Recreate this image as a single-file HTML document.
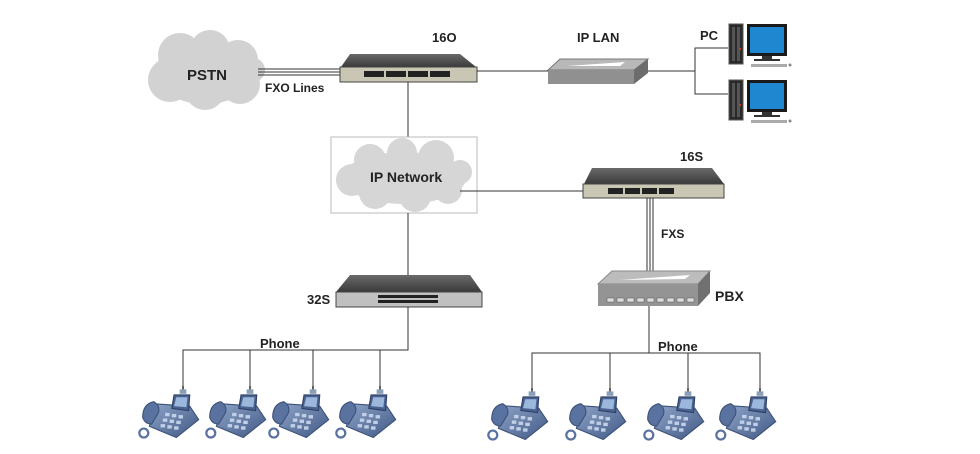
<!DOCTYPE html>
<html><head><meta charset="utf-8"><style>
html,body{margin:0;padding:0;background:#fff;}
svg{display:block;}
text{font-family:"Liberation Sans",Arial,sans-serif;font-weight:bold;fill:#222;}
</style></head><body>
<svg width="980" height="454" viewBox="0 0 980 454" xmlns="http://www.w3.org/2000/svg">
<defs>
<linearGradient id="top" x1="0" y1="0" x2="0" y2="1"><stop offset="0" stop-color="#6a6a6a"/><stop offset="1" stop-color="#3a3a3a"/></linearGradient>
<linearGradient id="ph" x1="0" y1="0" x2="1" y2="1"><stop offset="0" stop-color="#8ea4c8"/><stop offset="1" stop-color="#3f5784"/></linearGradient>
<g id="phone0">
<line x1="0" y1="0" x2="0" y2="5" stroke="#444" stroke-width="1.5"/>
<rect x="-3" y="3" width="6" height="4" fill="#8aa0b8"/>
<path d="M-24,16 L6,18 L14,30 L-6,46 L-30,36 Z" fill="url(#ph)" stroke="#3d5278" stroke-width="1"/>
<path d="M-8,8 L6,8 L5,22 L-10,20 Z" fill="#4a6290" stroke="#2e4066"/>
<path d="M-6,10 L4,10 L3,19 L-8,18 Z" fill="#9bb7dc"/>
<path d="M-26,14 Q-36,16 -36,28 Q-34,34 -28,34 L-22,24 Q-20,18 -26,14 Z" fill="#5a72a0" stroke="#3d5278"/>
<circle cx="-35" cy="42" r="4" fill="none" stroke="#5a72a0" stroke-width="2"/>
<g fill="#c0cfe6"><rect x="-16" y="24" width="4" height="3"/><rect x="-10" y="25" width="4" height="3"/><rect x="-4" y="26" width="4" height="3"/><rect x="-18" y="29" width="4" height="3"/><rect x="-12" y="30" width="4" height="3"/><rect x="-6" y="31" width="4" height="3"/><rect x="-20" y="34" width="4" height="3"/><rect x="-14" y="35" width="4" height="3"/><rect x="-8" y="36" width="4" height="3"/></g>
</g>
<g id="phone"><use href="#phone0" transform="scale(1.12)"/></g>
<g id="pc">
<rect x="0" y="0" width="14" height="40" fill="#2a2a2a" stroke="#555"/>
<rect x="3" y="3" width="3" height="34" fill="#555"/><rect x="8" y="3" width="3" height="34" fill="#555"/>
<circle cx="11" cy="25" r="1.2" fill="#c33"/>
<rect x="18" y="0" width="40" height="32" fill="#1a1a1a"/>
<rect x="21" y="3" width="34" height="26" fill="#1f86d0"/>
<rect x="33" y="32" width="10" height="3" fill="#333"/>
<rect x="25" y="35" width="26" height="2" fill="#333"/>
<rect x="22" y="40" width="36" height="3" fill="#aaa"/>
<circle cx="61" cy="41" r="1.5" fill="#888"/>
</g>
</defs>

<!-- PSTN cloud -->
<g fill="#d2d2d2">
<ellipse cx="205" cy="72" rx="50" ry="32"/>
<circle cx="180" cy="55" r="22"/><circle cx="210" cy="50" r="20"/><circle cx="238" cy="60" r="20"/>
<circle cx="170" cy="80" r="22"/><circle cx="205" cy="90" r="20"/><circle cx="240" cy="84" r="20"/>
<circle cx="253" cy="70" r="12"/>
</g>
<text x="187" y="80" font-size="15">PSTN</text>

<g stroke="#333" stroke-width="1"><line x1="258" y1="69" x2="340" y2="69"/><line x1="258" y1="72" x2="340" y2="72"/><line x1="258" y1="75" x2="340" y2="75"/></g>
<text x="265" y="92" font-size="12">FXO Lines</text>

<!-- 16O -->
<polygon points="350,54 460,54 476,67 341,67" fill="url(#top)"/>
<rect x="340" y="67" width="137" height="15" fill="#c9c6b4" stroke="#444"/>
<g fill="#222"><rect x="364" y="71" width="20" height="6"/><rect x="386" y="71" width="20" height="6"/><rect x="408" y="71" width="20" height="6"/><rect x="430" y="71" width="20" height="6"/></g>
<text x="432" y="42" font-size="13">16O</text>
<line x1="477" y1="71" x2="550" y2="71" stroke="#333"/>

<!-- IP LAN -->
<polygon points="560,59 648,59 634,70 548,70" fill="#b8b8b8" stroke="#777"/>
<polygon points="548,70 634,70 634,84 548,84" fill="#909090"/>
<polygon points="634,70 648,59 648,73 634,84" fill="#6c6c6c"/>
<polygon points="567,66 625,62 620,66" fill="#fff"/>
<text x="577" y="42" font-size="13">IP LAN</text>
<line x1="648" y1="71" x2="695" y2="71" stroke="#333"/>
<polyline points="728,48 695,48 695,94 728,94" fill="none" stroke="#333"/>
<text x="700" y="40" font-size="13">PC</text>
<use href="#pc" x="729" y="24"/>
<use href="#pc" x="729" y="80"/>

<line x1="408" y1="82" x2="408" y2="137" stroke="#333"/>

<!-- IP Network -->
<rect x="331" y="137" width="146" height="76" fill="#fff" stroke="#bbb"/>
<g fill="#d6d6d6">
<ellipse cx="404" cy="178" rx="62" ry="26"/>
<circle cx="370" cy="160" r="16"/><circle cx="402" cy="153" r="15"/><circle cx="436" cy="158" r="18"/><circle cx="460" cy="172" r="12"/>
<circle cx="352" cy="180" r="16"/><circle cx="375" cy="193" r="16"/><circle cx="415" cy="196" r="16"/><circle cx="448" cy="190" r="14"/>
</g>
<text x="370" y="182" font-size="14">IP Network</text>
<line x1="460" y1="191" x2="585" y2="191" stroke="#333"/>

<!-- 16S -->
<polygon points="592,168 712,168 724,184 584,184" fill="url(#top)"/>
<rect x="583" y="184" width="141" height="14" fill="#c9c6b4" stroke="#444"/>
<g fill="#222"><rect x="608" y="188" width="15" height="6"/><rect x="625" y="188" width="15" height="6"/><rect x="642" y="188" width="15" height="6"/><rect x="659" y="188" width="15" height="6"/></g>
<text x="680" y="161" font-size="13">16S</text>
<g stroke="#333" stroke-width="1"><line x1="647" y1="198" x2="647" y2="272"/><line x1="650" y1="198" x2="650" y2="272"/><line x1="653" y1="198" x2="653" y2="272"/></g>
<text x="661" y="238" font-size="12">FXS</text>

<!-- PBX -->
<polygon points="612,271 710,271 698,284 598,284" fill="#bcbcbc" stroke="#888"/>
<rect x="598" y="284" width="100" height="22" fill="#949494"/>
<polygon points="698,284 710,271 710,293 698,306" fill="#707070"/>
<polygon points="620,280 690,275 685,279" fill="#fff"/>
<g fill="#ddd" stroke="#555" stroke-width="0.5"><rect x="607" y="298" width="7" height="4"/><rect x="617" y="298" width="7" height="4"/><rect x="627" y="298" width="7" height="4"/><rect x="637" y="298" width="7" height="4"/><rect x="647" y="298" width="7" height="4"/><rect x="657" y="298" width="7" height="4"/><rect x="667" y="298" width="7" height="4"/><rect x="677" y="298" width="7" height="4"/><rect x="687" y="298" width="7" height="4"/></g>
<text x="715" y="301" font-size="14">PBX</text>
<line x1="649" y1="306" x2="649" y2="353" stroke="#333"/>
<polyline points="532,388 532,353 760,353 760,388" fill="none" stroke="#333"/>
<line x1="610" y1="353" x2="610" y2="388" stroke="#333"/>
<line x1="688" y1="353" x2="688" y2="388" stroke="#333"/>
<text x="658" y="351" font-size="13">Phone</text>

<!-- 32S -->
<line x1="408" y1="213" x2="408" y2="276" stroke="#333"/>
<polygon points="350,275 470,275 482,292 336,292" fill="url(#top)"/>
<rect x="336" y="292" width="146" height="15" fill="#c0c0c0" stroke="#444"/>
<g fill="#222"><rect x="378" y="295" width="60" height="3"/><rect x="378" y="300" width="60" height="3"/></g>
<text x="307" y="304" font-size="13">32S</text>
<polyline points="408,307 408,350 183,350 183,388" fill="none" stroke="#333"/>
<line x1="250" y1="350" x2="250" y2="388" stroke="#333"/>
<line x1="313" y1="350" x2="313" y2="388" stroke="#333"/>
<line x1="380" y1="350" x2="380" y2="388" stroke="#333"/>
<text x="260" y="348" font-size="13">Phone</text>

<use href="#phone" x="183" y="386"/>
<use href="#phone" x="250" y="386"/>
<use href="#phone" x="313" y="386"/>
<use href="#phone" x="380" y="386"/>
<use href="#phone" x="532" y="388"/>
<use href="#phone" x="610" y="388"/>
<use href="#phone" x="688" y="388"/>
<use href="#phone" x="760" y="388"/>
</svg>
</body></html>
